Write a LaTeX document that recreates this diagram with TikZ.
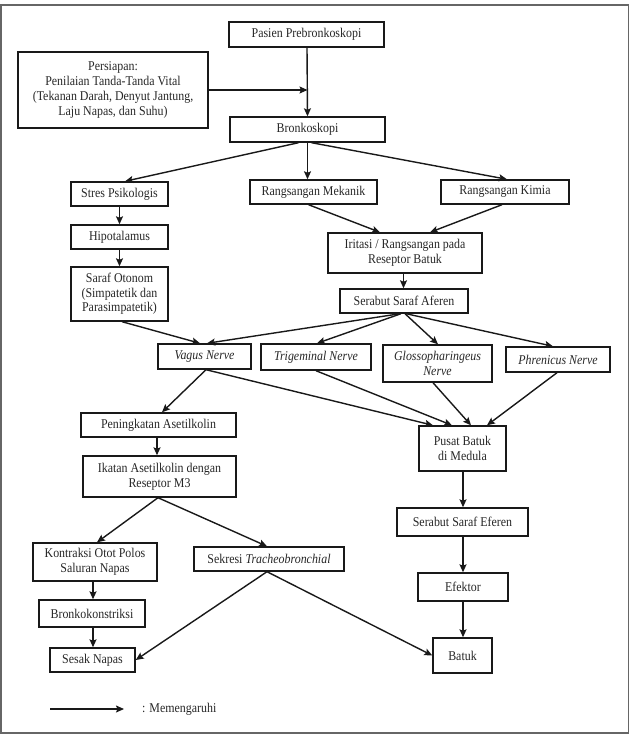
\documentclass[tikz,border=0pt]{standalone}
\usepackage{fontspec}
\setmainfont{Liberation Serif}[FakeStretch=0.89]
\usetikzlibrary{arrows.meta,calc}
\begin{document}
\begin{tikzpicture}[x=1pt,y=-1pt,
  box/.style={draw=black!90, line width=1.4pt, inner sep=0pt, align=center, text=black!85, font=\fontsize{13.4}{15.2}\selectfont},
  arr/.style={line width=1.4pt, draw=black!90, -{Stealth[length=8pt,width=7pt,inset=1.5pt]}},
  lbl/.style={text=black!85, font=\fontsize{13.4}{15.2}\selectfont, inner sep=0pt},
]
\useasboundingbox (0,0) rectangle (631,735);
\draw[line width=1.6pt, black!60] (0.8,5) rectangle (628.5,733);

\node[box, minimum width=155pt, minimum height=25pt] (pasien) at (306.5,34.5) {Pasien Prebronkoskopi};
\node[box, minimum width=190pt, minimum height=76pt] (persiap) at (113,90) {Persiapan:\\Penilaian Tanda-Tanda Vital\\(Tekanan Darah, Denyut Jantung,\\Laju Napas, dan Suhu)};
\node[box, minimum width=155pt, minimum height=25pt] (bronk) at (307.5,129.5) {Bronkoskopi};
\node[box, minimum width=97pt, minimum height=24pt] (stres) at (119.5,194) {Stres Psikologis};
\node[box, minimum width=127pt, minimum height=24pt] (mekanik) at (313.5,192) {Rangsangan Mekanik};
\node[box, minimum width=128pt, minimum height=24pt] (kimia) at (505,192) {Rangsangan Kimia};
\node[box, minimum width=97pt, minimum height=24pt] (hipo) at (119.5,237) {Hipotalamus};
\node[box, minimum width=97pt, minimum height=54pt, font=\fontsize{13.4}{14.5}\selectfont] (saraf) at (119.5,294) {Saraf Otonom\\(Simpatetik dan\\Parasimpatetik)};
\node[box, minimum width=154pt, minimum height=40pt] (iritasi) at (405,253) {Iritasi / Rangsangan pada\\Reseptor Batuk};
\node[box, minimum width=128pt, minimum height=24pt] (aferen) at (404,301) {Serabut Saraf Aferen};
\node[box, minimum width=93pt, minimum height=25pt] (vagus) at (204.5,356.5) {\itshape Vagus Nerve};
\node[box, minimum width=110pt, minimum height=26pt] (trig) at (316,357) {\itshape Trigeminal Nerve};
\node[box, minimum width=109pt, minimum height=37pt, font=\fontsize{13.4}{14.2}\selectfont] (glosso) at (437.5,363.5) {\itshape Glossopharingeus\\\itshape Nerve};
\node[box, minimum width=104pt, minimum height=25pt] (phren) at (558,359.5) {\itshape Phrenicus Nerve};
\node[box, minimum width=87pt, minimum height=45pt] (pusat) at (462.5,448.5) {Pusat Batuk\\di Medula};
\node[box, minimum width=155pt, minimum height=24pt] (pening) at (158.5,425) {Peningkatan Asetilkolin};
\node[box, minimum width=153pt, minimum height=41pt] (ikatan) at (159.5,476.5) {Ikatan Asetilkolin dengan\\Reseptor M3};
\node[box, minimum width=124pt, minimum height=38pt, font=\fontsize{13.4}{14.5}\selectfont] (kontraksi) at (95,562) {Kontraksi Otot Polos\\Saluran Napas};
\node[box, minimum width=150pt, minimum height=24pt] (sekresi) at (269,559) {Sekresi \textit{Tracheobronchial}};
\node[box, minimum width=106pt, minimum height=27pt] (bronko) at (92,613.5) {Bronkokonstriksi};
\node[box, minimum width=85pt, minimum height=24pt] (sesak) at (92.5,660) {Sesak Napas};
\node[box, minimum width=131pt, minimum height=28pt] (eferen) at (462.5,522) {Serabut Saraf Eferen};
\node[box, minimum width=90pt, minimum height=28pt] (efektor) at (463,587) {Efektor};
\node[box, minimum width=59pt, minimum height=35pt] (batuk) at (462.5,655.5) {Batuk};

% connectors
\draw[arr] ([xshift=0.5pt]pasien.south) -- (bronk.north);
\draw[arr] (persiap.east) -- (persiap.east -| bronk.north);
\draw[arr] ([xshift=-9pt]bronk.south) -- ([xshift=5.5pt]stres.north);
\draw[arr] (bronk.south) -- (bronk.south |- mekanik.north);
\draw[arr] ([xshift=4pt]bronk.south) -- ([xshift=2pt]kimia.north);
\draw[arr] (stres.south) -- (hipo.north);
\draw[arr] (hipo.south) -- (saraf.north);
\draw[arr] ([xshift=2.5pt]saraf.south) -- ([xshift=-4.5pt]vagus.north);
\draw[arr] ([xshift=-5pt]mekanik.south) -- ([xshift=-25pt]iritasi.north);
\draw[arr] ([xshift=-3pt]kimia.south) -- ([xshift=25pt]iritasi.north);
\draw[arr] ([xshift=-1.5pt]iritasi.south) -- ([xshift=-0.5pt]aferen.north);
\draw[arr] ([xshift=-4pt]aferen.south) -- ([xshift=2.5pt]vagus.north);
\draw[arr] ([xshift=-3pt]aferen.south) -- ([xshift=1pt]trig.north);
\draw[arr] ([xshift=1pt]aferen.south) -- ([xshift=0.5pt]glosso.north);
\draw[arr] ([xshift=2pt]aferen.south) -- ([xshift=-5pt]phren.north);
\draw[arr] ([xshift=1.5pt]vagus.south) -- ([xshift=3.5pt]pening.north);
\draw[arr] ([xshift=1.5pt]vagus.south) -- ([xshift=-29.5pt]pusat.north);
\draw[arr] (trig.south) -- ([xshift=-10.5pt]pusat.north);
\draw[arr] ([xshift=-4.5pt]glosso.south) -- ([xshift=8.5pt]pusat.north);
\draw[arr] ([xshift=-1pt]phren.south) -- ([xshift=24.5pt]pusat.north);
\draw[arr] ([xshift=-1.5pt]pening.south) -- ([xshift=-2.5pt]ikatan.north);
\draw[arr] ([xshift=-1.5pt]ikatan.south) -- ([xshift=2pt]kontraksi.north);
\draw[arr] ([xshift=-1.5pt]ikatan.south) -- ([xshift=-2pt]sekresi.north);
\draw[arr] ([xshift=-2pt]kontraksi.south) -- ([xshift=1pt]bronko.north);
\draw[arr] ([xshift=1pt]bronko.south) -- ([xshift=0.5pt]sesak.north);
\draw[arr] ([xshift=-2pt]sekresi.south) -- (sesak.east);
\draw[arr] ([xshift=-2pt]sekresi.south) -- (batuk.west);
\draw[arr] ([xshift=0.5pt]pusat.south) -- ([xshift=0.5pt]eferen.north);
\draw[arr] ([xshift=0.5pt]eferen.south) -- (efektor.north);
\draw[arr] (efektor.south) -- ([xshift=0.5pt]batuk.north);

% legend
\coordinate (l1) at (50,709);
\coordinate (l2) at (124,709);
\draw[arr] (l1) -- (l2);
\node[lbl, anchor=west] (leg) at (142,709) {: Memengaruhi};
\end{tikzpicture}
\end{document}
